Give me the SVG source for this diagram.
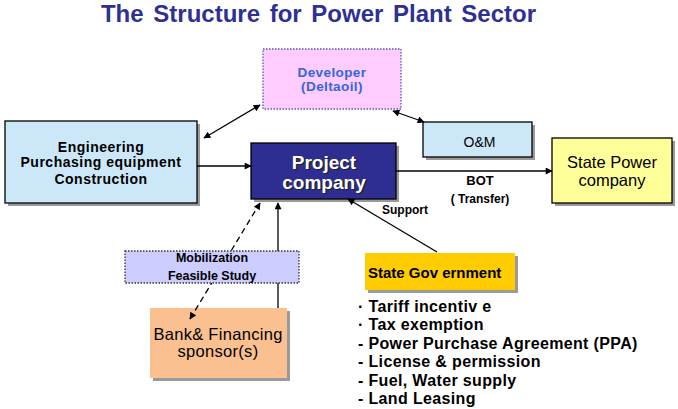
<svg xmlns="http://www.w3.org/2000/svg" width="678" height="409" viewBox="0 0 678 409">
<style>
  text { font-family: "Liberation Sans", Arial, sans-serif; }
  .b { font-weight: bold; }
  .shadow { fill: #9a9a9a; }
  .box { stroke: #000; stroke-width: 1.3; }
  .conn { stroke: #000; stroke-width: 1.3; fill: none; }
  .dash { stroke-dasharray: 6 4; }
  .item { font-size: 16px; font-weight: bold; fill: #000; letter-spacing: 0.35px; }
</style>
<defs>
  <marker id="ah" viewBox="0 0 10 10" refX="9" refY="5" markerWidth="8" markerHeight="7" markerUnits="userSpaceOnUse" orient="auto-start-reverse">
    <path d="M0,0 L10,5 L0,10 Z" fill="#000"/>
  </marker>
</defs>
<rect width="678" height="409" fill="#fff"/>
<text id="title" x="318.5" y="22" text-anchor="middle" class="b" font-size="24" fill="#2e3192" word-spacing="3">The Structure for Power Plant Sector</text>

<g id="developer">
  <rect x="263" y="49" width="138" height="60" fill="#ffccff" stroke="#5555cc" stroke-width="1.3" stroke-dasharray="1.5 1.5"/>
  <text x="332" y="77" text-anchor="middle" class="b" font-size="13.5" fill="#3366dd" letter-spacing="0.4">Developer</text>
  <text x="332" y="91" text-anchor="middle" class="b" font-size="13.5" fill="#3366dd" letter-spacing="0.4">(Deltaoil)</text>
</g>

<g id="engineering">
  <rect class="shadow" x="8" y="124" width="192" height="82"/>
  <rect class="box" x="5" y="121" width="192" height="82" fill="#cce8f8"/>
  <text x="101" y="152" text-anchor="middle" class="b" font-size="14" letter-spacing="0.5">Engineering</text>
  <text x="101" y="167" text-anchor="middle" class="b" font-size="14" letter-spacing="0.5">Purchasing equipment</text>
  <text x="101" y="184" text-anchor="middle" class="b" font-size="14" letter-spacing="0.5">Construction</text>
</g>

<g id="project">
  <rect class="shadow" x="254" y="146" width="145" height="56"/>
  <rect class="box" x="251" y="143" width="145" height="56" fill="#2e2e90"/>
  <text x="325.5" y="170" text-anchor="middle" class="b" font-size="19" fill="#222">Project</text>
  <text x="325.5" y="190" text-anchor="middle" class="b" font-size="19" fill="#222">company</text>
  <text x="324" y="169" text-anchor="middle" class="b" font-size="19" fill="#fff">Project</text>
  <text x="324" y="189" text-anchor="middle" class="b" font-size="19" fill="#fff">company</text>
</g>

<g id="om">
  <rect class="shadow" x="426" y="125" width="109" height="35"/>
  <rect class="box" x="423" y="122" width="109" height="35" fill="#cce8f8"/>
  <text x="479.5" y="147" text-anchor="middle" font-size="14">O&amp;M</text>
</g>

<g id="statepower">
  <rect class="shadow" x="555" y="141" width="120" height="65"/>
  <rect class="box" x="552" y="138" width="120" height="65" fill="#ffff99"/>
  <text x="612" y="168" text-anchor="middle" font-size="16.5">State Power</text>
  <text x="612" y="186" text-anchor="middle" font-size="16.5">company</text>
</g>

<g id="bank">
  <rect class="shadow" x="153" y="311" width="137" height="70"/>
  <rect x="150" y="308" width="137" height="70" fill="#fac090"/>
  <text x="218" y="340" text-anchor="middle" font-size="16.5" letter-spacing="0.3">Bank&amp; Financing</text>
  <text x="218" y="357" text-anchor="middle" font-size="16.5" letter-spacing="0.3">sponsor(s)</text>
</g>

<g id="stategov">
  <rect class="shadow" x="368" y="256" width="150" height="37"/>
  <rect x="365" y="253" width="150" height="37" fill="#ffcc00"/>
  <text x="368" y="278" class="b" font-size="15">State Gov ernment</text>
</g>

<g id="support-list">
  <text class="item" x="358" y="312">· Tariff incentiv e</text>
  <text class="item" x="358" y="330">· Tax exemption</text>
  <text class="item" x="358" y="349">- Power Purchase Agreement (PPA)</text>
  <text class="item" x="358" y="367">- License &amp; permission</text>
  <text class="item" x="358" y="386">- Fuel, Water supply</text>
  <text class="item" x="358" y="404">- Land Leasing</text>
</g>

<g id="connectors">
  <line class="conn" x1="260" y1="105" x2="204" y2="138" marker-start="url(#ah)" marker-end="url(#ah)"/>
  <line class="conn" x1="393" y1="111" x2="424" y2="122" marker-start="url(#ah)" marker-end="url(#ah)"/>
  <line class="conn" x1="197" y1="166" x2="251" y2="166" marker-end="url(#ah)"/>
  <line class="conn" x1="396" y1="171" x2="552" y2="171" marker-end="url(#ah)"/>
  <line class="conn" x1="437" y1="252" x2="348" y2="199" marker-end="url(#ah)"/>
  <line class="conn" x1="278" y1="308" x2="278" y2="203" marker-end="url(#ah)"/>
  <line class="conn dash" x1="190" y1="319" x2="260" y2="203" marker-start="url(#ah)" marker-end="url(#ah)"/>
  <text x="405" y="214" text-anchor="middle" class="b" font-size="12">Support</text>
  <text x="480" y="185" text-anchor="middle" class="b" font-size="13">BOT</text>
  <text x="480" y="203" text-anchor="middle" class="b" font-size="12">( Transfer)</text>
</g>

<g id="mobilization">
  <rect x="125" y="251" width="174" height="32" fill="#ccccff" stroke="#333" stroke-width="1.3" stroke-dasharray="1.5 1.5"/>
  <text x="212" y="262" text-anchor="middle" class="b" font-size="12.5">Mobilization</text>
  <text x="212" y="280" text-anchor="middle" class="b" font-size="12.5">Feasible Study</text>
</g>
</svg>
